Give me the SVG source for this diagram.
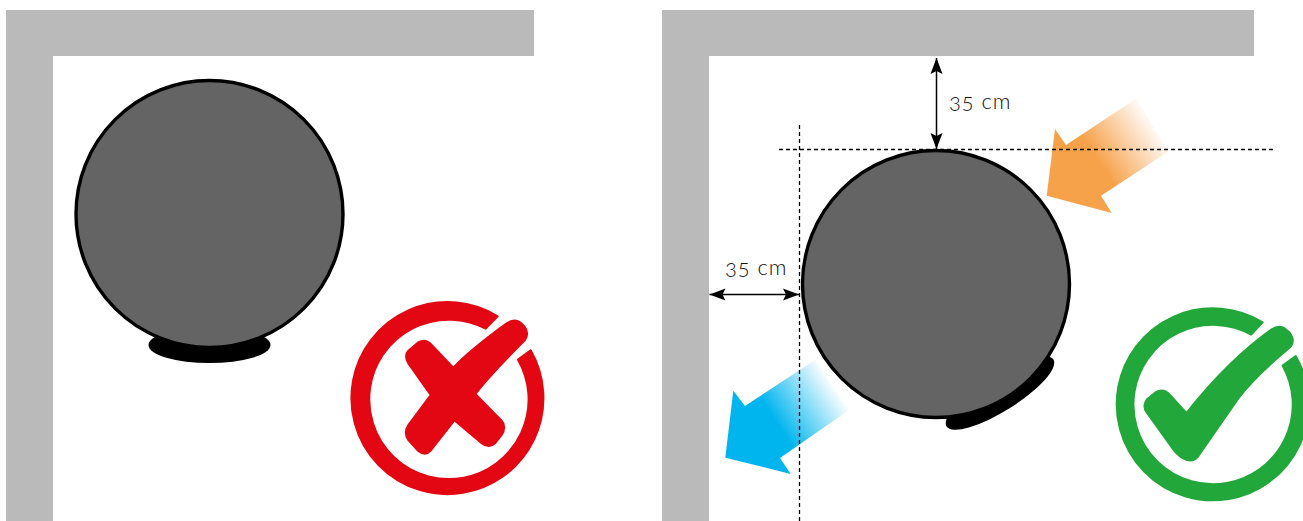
<svg xmlns="http://www.w3.org/2000/svg" width="1303" height="521" viewBox="0 0 1303 521">
<style>
.wall{fill:#bababa}
.ball{fill:#646464;stroke:#000;stroke-width:3.4}
.shadow{fill:#000}
.dash{stroke:#000;stroke-width:1.3;stroke-dasharray:4 3;fill:none}
.dim{stroke:#000;stroke-width:1.5;fill:none;marker-start:url(#head);marker-end:url(#head)}
.lbl{font-family:"Lato","Open Sans",sans-serif;font-size:22px;font-weight:300;fill:#111;font-variant-numeric:oldstyle-nums;letter-spacing:.9px}
.red{fill:#e30613;stroke:#e30613;stroke-width:6;stroke-linejoin:round}
.green{fill:#22a73a;stroke:#22a73a;stroke-width:6;stroke-linejoin:round}
</style>
<defs>
<marker id="head" markerUnits="userSpaceOnUse" markerWidth="17" markerHeight="13" refX="16" refY="6.5" orient="auto-start-reverse"><path d="M16 6.500L0 0.500L3 6.500L0 12.500Z" fill="#000"/></marker>
<linearGradient id="og" gradientUnits="userSpaceOnUse" x1="1157" y1="125" x2="1100" y2="163"><stop offset="0" stop-color="#f6a24b" stop-opacity="0"/><stop offset="1" stop-color="#f6a24b"/></linearGradient>
<linearGradient id="bg" gradientUnits="userSpaceOnUse" x1="834" y1="384" x2="776" y2="422"><stop offset="0" stop-color="#00b5ee" stop-opacity="0"/><stop offset="1" stop-color="#00b5ee"/></linearGradient>
</defs>
<g id="wall-left"><path class="wall" d="M6 10H534V56H53V521H6Z"/></g>
<g id="wall-right"><path class="wall" d="M662 10H1254V56H709V521H662Z"/></g>
<g id="ball-left"><ellipse class="shadow" cx="209.500" cy="345" rx="61" ry="18"/><circle class="ball" cx="209.500" cy="214" r="133.500"/></g>
<g id="ball-right"><ellipse class="shadow" cx="1000" cy="393" rx="63" ry="18" transform="rotate(-32 1000 393)"/><circle class="ball" cx="936" cy="284" r="133.500"/></g>
<g id="arrow-in"><path fill="url(#og)" d="M1046.700 195.700L1055 129L1066 145L1136.700 98.300L1168 151.700L1101 195.700L1111.700 213Z"/></g>
<g id="arrow-out"><path fill="url(#bg)" d="M725.300 457.700L733.300 390.700L745 406L815 360L849 410L780 458L790.700 474Z"/></g>
<g id="connectors">
<path class="dash" d="M779 149.500H1273"/>
<path class="dash" d="M799.500 125V521"/>
<path class="dim" d="M936.500 58V149"/>
<path class="dim" d="M709.500 294.500H799"/>
</g>
<g id="label-top"><text class="lbl" x="949" y="109">35 cm</text></g>
<g id="label-left"><text class="lbl" x="725" y="275">35 cm</text></g>
<g id="icon-cross" transform="translate(340 290) scale(.33333)">
<path class="red" d="M473 79A288 288 0 1 0 572 181L534 209A239 239 0 1 1 437 116Z"/>
<path class="red" d="M340 233L275 165C262 150 248 150 235 157L205 182C195 192 197 208 205 220L272 315L205 405C195 420 195 438 205 450L235 483C250 495 262 493 272 482L343 391L425 460C440 472 455 470 465 460L485 435C495 420 495 402 485 392L406 312C450 255 510 195 555 150C565 135 562 120 552 108L540 97C528 88 515 90 500 100C445 140 385 185 340 233Z"/>
</g>
<g id="icon-check" transform="translate(1100 295) scale(.33333)">
<path class="green" d="M488 82A288 288 0 1 0 587 183L548 212A239 239 0 1 1 453.500 118.500Z"/>
<path class="green" d="M259 354L210 300C197 285 180 284 165 293L142 312C132 322 130 340 140 352L222 466C245 495 275 505 292 487L415 310C465 245 530 190 572 155C582 142 578 125 568 112L555 101C543 92 530 93 515 103C420 170 330 265 259 354Z"/>
</g>
</svg>
